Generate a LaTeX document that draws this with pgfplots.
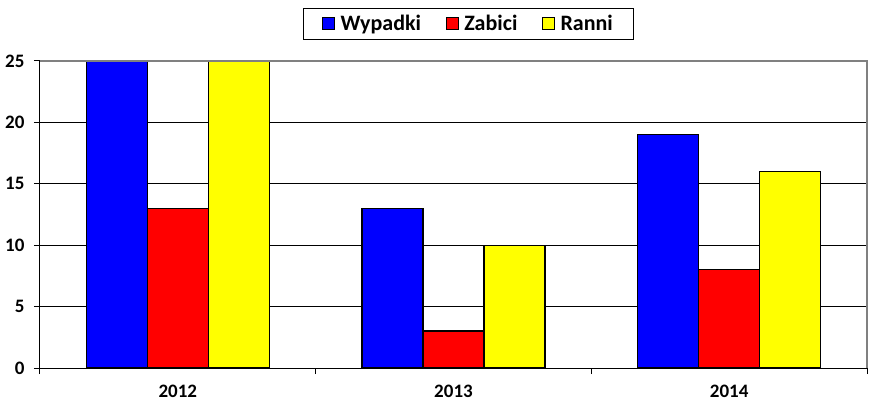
\documentclass[border=0pt]{standalone}
\usepackage{pgfplots}
\pgfplotsset{compat=1.18}
\usepackage{fontspec}
\setmainfont{Carlito}
\definecolor{cBlue}{RGB}{0,0,255}
\definecolor{cRed}{RGB}{255,0,0}
\definecolor{cYellow}{RGB}{255,255,0}
\definecolor{cFrame}{RGB}{128,128,128}
\begin{document}
\begin{tikzpicture}[x=1pt,y=1pt]
\useasboundingbox (-40pt,-34pt) rectangle (833pt,368pt);
\begin{axis}[
  at={(0pt,0pt)}, anchor=south west,
  scale only axis, width=827pt, height=307pt,
  ybar=0pt, bar width=61pt,
  xmin=-0.5, xmax=2.5, ymin=0, ymax=25,
  xtick={0,1,2}, xticklabels={2012,2013,2014},
  minor xtick={-0.5,0.5,1.5,2.5},
  ytick={0,5,10,15,20,25},
  major x tick style={draw=none},
  minor tick length=6pt, major tick length=6pt,
  tick align=outside, xtick pos=lower, ytick pos=left,
  axis x line*=bottom, axis y line*=left,
  axis line style={black, line width=1pt},
  ymajorgrids, grid style={black, line width=1pt},
  tick style={black, line width=1pt},
  every tick label/.append style={font=\bfseries\fontsize{19}{22}\selectfont},
  /pgf/number format/assume math mode=true,
  yticklabel style={xshift=-6pt},
  xticklabel style={yshift=-8pt},
  legend columns=3,
  legend style={at={(rel axis cs:0.318,1.1726)}, anchor=north west, draw=black, line width=1pt,
    font=\bfseries\fontsize{22}{26}\selectfont, inner xsep=19pt, inner ysep=5pt,
    /tikz/every even column/.append style={column sep=23pt}},
  legend cell align=left,
  legend image code/.code={\draw[#1, draw=black, line width=1pt] (0pt,-6pt) rectangle (12pt,6pt); \path (15pt,0pt);},
  every axis plot/.append style={draw=black, line width=1.4pt},
  clip=false,
]
\addplot[fill=cBlue] coordinates {(0,25) (1,13) (2,19)};
\addplot[fill=cRed] coordinates {(0,13) (1,3) (2,8)};
\addplot[fill=cYellow] coordinates {(0,25) (1,10) (2,16)};
\legend{Wypadki,Zabici,Ranni}
\draw[cFrame, line width=1.5pt] (rel axis cs:0,1) -- (rel axis cs:1,1) -- (rel axis cs:1,0);
\end{axis}
\end{tikzpicture}
\end{document}
